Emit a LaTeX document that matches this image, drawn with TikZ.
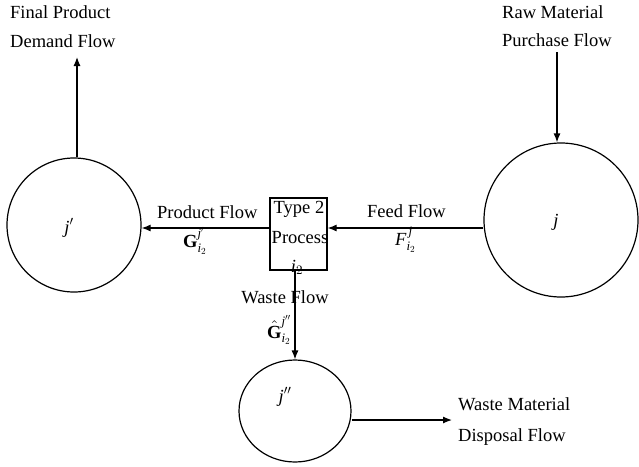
\documentclass[tikz,border=0pt]{standalone}
\usepackage{amsmath}
\usepackage{fontspec}
\setmainfont{Liberation Serif}
% let the Computer Modern maths fonts scale to any size
\DeclareFontShape{OML}{cmm}{m}{it}{<->cmmi10}{\skewchar\font127}
\DeclareFontShape{OMS}{cmsy}{m}{n}{<->cmsy10}{\skewchar\font48}
\DeclareFontShape{OMX}{cmex}{m}{n}{<->cmex10}{}
\DeclareFontShape{OT1}{cmr}{m}{n}{<->cmr10}{}
\DeclareFontShape{OT1}{cmr}{bx}{n}{<->cmbx10}{}
\usetikzlibrary{arrows.meta,shapes.geometric}
\begin{document}
\begin{tikzpicture}[x=1pt,y=-1pt,
  flow/.style={line width=1.2pt,-{Latex[length=9pt,width=7pt]}},
  pool/.style={draw,line width=1.2pt,circle,inner sep=0pt},
  txt/.style={font=\fontsize{18.5}{29}\selectfont,inner sep=0pt},
  sym/.style={font=\fontsize{18.5}{22}\selectfont,inner sep=0pt,anchor=base west}]
\useasboundingbox (0,0) rectangle (639,466);

% material pools and the process unit
\node[pool,minimum size=134pt] (jp) at (74,225) {};
\node[pool,minimum size=154pt] (j) at (561,220) {};
\node[draw,line width=1.2pt,ellipse,inner sep=0pt,minimum width=112pt,minimum height=102pt] (jpp) at (295,411) {};
\node[draw,line width=1.2pt,inner sep=0pt,minimum width=57pt,minimum height=72pt] (proc) at (298.5,234) {};

% pool symbols
\node[sym,anchor=base] (tjp) at (69,233) {$\textit{j}'$};
\node[sym,anchor=base] (tj) at (556,226) {$\textit{j}$};
\node[sym,anchor=base] (tjpp) at (285,402) {$\textit{j}''$};

% process label
\node[txt,anchor=base] (ptype) at (299,213) {Type 2};
\node[txt,anchor=base] (pname) at (300,243) {Process};
\node[sym,anchor=base] (pidx) at (297,272) {$\textit{i}_2$};

% free ends of the outer flows
\coordinate (axis) at (0,228);
\coordinate (demand) at (77,57);
\coordinate (raw) at (557,52);
\coordinate (disp) at (452,420);

% flows
\draw[flow] (raw) -- (raw |- j.north);
\draw[flow] (j.west |- axis) -- (proc.east |- axis);
\draw[flow] (proc.west |- axis) -- (jp.east |- axis);
\draw[flow] (demand |- jp.north) -- (demand);
\draw[flow] (jpp.north |- proc.south) -- (jpp.north);
\draw[flow] (jpp.east |- disp) -- (disp);

% flow names
\node[txt,anchor=base west] (fp1) at (10,18) {Final Product};
\node[txt,anchor=base west] (fp2) at (10,47) {Demand Flow};
\node[txt,anchor=base west] (rm1) at (502,18) {Raw Material};
\node[txt,anchor=base west] (rm2) at (502,46) {Purchase Flow};
\node[txt,anchor=base west] (wm1) at (458,410) {Waste Material};
\node[txt,anchor=base west] (wm2) at (458,441) {Disposal Flow};
\node[txt,anchor=base west] (pf) at (157,218) {Product Flow};
\node[txt,anchor=base west] (ff) at (367,217) {Feed Flow};
\node[txt,anchor=base] (wf) at (285,303) {Waste Flow};

% flow variables
\node[sym] (gvar) at (183,247) {$\textbf{G}^{\textit{j}'}_{\textit{i}_2}$};
\node[sym] (fvar) at (395,245) {$\textit{F}^{\,\textit{j}}_{\textit{i}_2}$};
\node[sym] (hvar) at (267,338) {$\hat{\textbf{G}}^{\textit{j}''}_{\textit{i}_2}$};
\end{tikzpicture}
\end{document}
